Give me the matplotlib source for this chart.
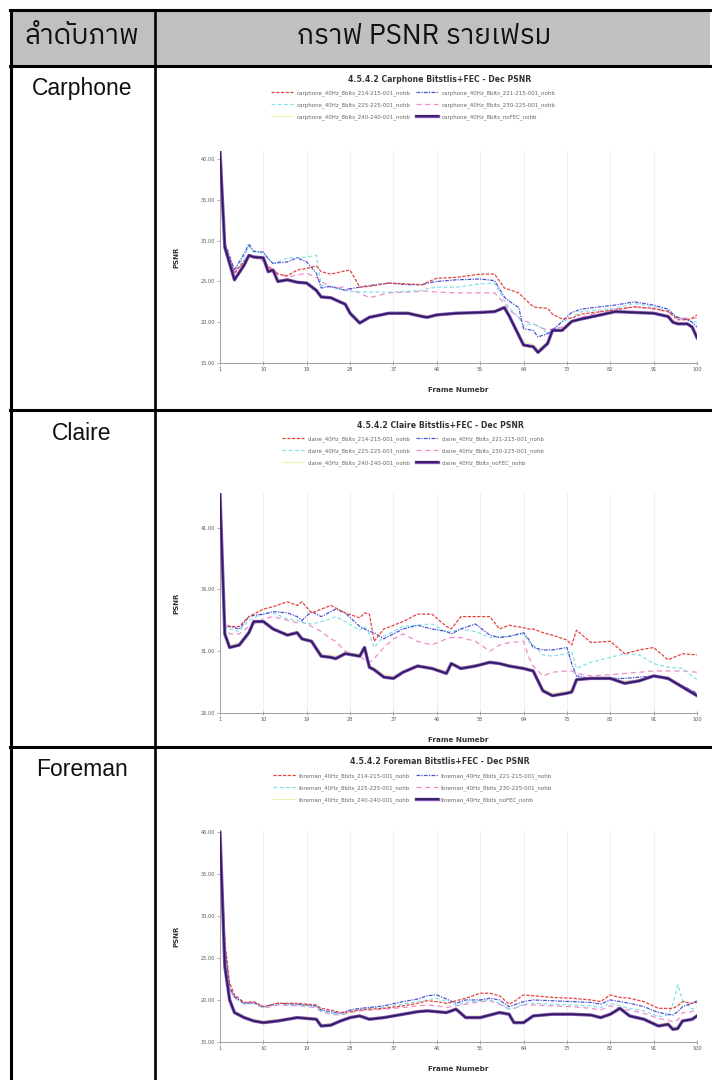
import matplotlib
matplotlib.use("Agg")
import matplotlib.pyplot as plt
import matplotlib.patheffects as pe
from matplotlib.lines import Line2D
from matplotlib.patches import Rectangle
from matplotlib.ticker import FormatStrFormatter
from matplotlib import font_manager
from matplotlib.ft2font import FT2Font

# ---------------------------------------------------------------- data
header_left = "ลำดับภาพ"
header_right = "กราฟ PSNR รายเฟรม"
clip_names = ["Carphone", "Claire", "Foreman"]
fec_settings = ["214-215-001", "221-215-001", "225-225-001",
                "230-225-001", "240-240-001", "noFEC"]
frame_ticks = [1, 10, 19, 28, 37, 46, 55, 64, 73, 82, 91, 100]

carphone_frames = [1, 2, 4, 6, 7, 8, 10, 11, 12, 13, 15, 17, 19, 21, 22, 24, 27, 28, 30, 32,
                   36, 40, 43, 44, 46, 50, 55, 58, 60, 61, 63, 64, 66, 67, 69, 70, 72, 74, 76,
                   80, 83, 87, 91, 94, 95, 96, 98, 99, 100]
carphone_214 = [40.9, 29.6, 26.0, 27.5, 28.2, 28.0, 27.8, 26.8, 26.5, 25.9, 25.7, 26.4, 26.6,
                26.9, 26.2, 25.9, 26.3, 26.4, 24.3, 24.4, 24.8, 24.7, 24.6, 24.9, 25.4, 25.5,
                25.9, 25.9, 24.2, 24.0, 23.6, 23.0, 21.9, 21.8, 21.7, 21.0, 20.4, 20.5, 21.0,
                21.3, 21.5, 21.9, 21.7, 21.3, 20.8, 20.3, 20.3, 20.5, 20.9]
carphone_221 = [40.9, 29.8, 26.4, 28.4, 29.6, 28.7, 28.6, 27.8, 27.2, 27.3, 27.4, 27.9, 27.4,
                26.0, 24.2, 24.4, 23.9, 24.1, 24.3, 24.5, 24.8, 24.6, 24.6, 24.8, 25.0, 25.2,
                25.3, 25.1, 23.1, 22.6, 21.8, 19.2, 19.0, 18.2, 18.6, 19.0, 20.1, 21.2, 21.6,
                21.9, 22.1, 22.5, 22.1, 21.6, 21.0, 20.6, 20.3, 20.0, 19.4]
carphone_225 = [40.9, 29.6, 26.2, 28.0, 29.3, 28.6, 28.5, 27.8, 27.2, 27.4, 27.9, 27.9, 28.0,
                28.2, 24.5, 24.4, 23.9, 23.8, 23.7, 23.7, 23.7, 23.8, 23.9, 24.1, 24.3, 24.3,
                24.7, 24.8, 22.7, 21.8, 20.6, 19.6, 19.8, 19.6, 18.6, 19.0, 20.0, 20.6, 21.3,
                21.5, 21.7, 22.3, 21.9, 21.4, 21.0, 20.6, 20.2, 20.1, 20.0]
carphone_230 = [40.9, 29.5, 26.0, 27.4, 28.0, 27.9, 27.5, 26.8, 26.4, 26.0, 25.5, 25.8, 26.0,
                25.5, 25.0, 24.3, 24.3, 24.0, 23.6, 23.0, 23.6, 23.7, 23.8, 23.8, 23.7, 23.6,
                23.6, 23.6, 22.3, 21.5, 20.6, 20.2, 19.8, 19.5, 19.0, 19.2, 19.4, 20.0, 20.6,
                21.3, 21.6, 21.9, 21.6, 21.3, 20.8, 20.5, 20.5, 20.5, 20.5]
carphone_240 = [40.9, 29.3, 25.4, 27.1, 28.3, 28.1, 27.8, 26.4, 26.3, 25.2, 25.3, 25.0, 24.9,
                24.1, 23.3, 23.1, 22.4, 21.3, 20.1, 20.7, 21.2, 21.2, 20.9, 20.8, 21.0, 21.2,
                21.3, 21.4, 21.7, 20.9, 18.7, 17.5, 17.3, 16.7, 17.6, 19.1, 19.2, 20.2, 20.5,
                21.0, 21.4, 21.3, 21.2, 20.8, 20.2, 20.0, 19.9, 19.6, 18.4]
carphone_nofec = [40.9, 29.2, 25.2, 27.0, 28.2, 28.0, 27.9, 26.2, 26.4, 25.0, 25.2, 24.9, 24.8,
                  23.9, 23.1, 23.0, 22.2, 21.1, 19.9, 20.6, 21.1, 21.1, 20.7, 20.6, 20.9, 21.1,
                  21.2, 21.3, 21.8, 20.8, 18.4, 17.2, 17.0, 16.3, 17.4, 19.0, 19.0, 20.1, 20.4,
                  20.9, 21.3, 21.2, 21.1, 20.7, 20.0, 19.8, 19.8, 19.4, 18.1]

claire_frames = [1, 2, 3, 5, 7, 8, 10, 12, 15, 17, 18, 20, 22, 24, 25, 27, 30, 31, 32, 33, 35,
                 37, 39, 42, 45, 48, 49, 51, 54, 57, 59, 61, 64, 65, 66, 68, 70, 73, 74, 75,
                 78, 82, 85, 88, 91, 94, 97, 100]
claire_214 = [43.7, 33.2, 33.0, 33.0, 33.8, 34.0, 34.4, 34.6, 35.0, 34.7, 35.0, 34.1, 34.4,
              34.7, 34.5, 34.1, 33.7, 34.1, 34.0, 31.8, 32.8, 33.1, 33.4, 34.0, 34.0, 33.0,
              32.8, 33.8, 33.8, 33.8, 32.8, 33.1, 32.9, 32.8, 32.8, 32.5, 32.3, 31.9, 31.5,
              32.7, 31.7, 31.8, 30.8, 31.1, 31.3, 30.3, 30.8, 30.7]
claire_221 = [43.7, 33.0, 33.0, 32.8, 33.8, 33.9, 34.0, 34.2, 34.1, 33.8, 33.5, 34.2, 33.8,
              34.2, 34.4, 34.1, 33.0, 32.8, 32.6, 32.5, 32.0, 32.4, 32.8, 33.1, 32.8, 32.6,
              32.4, 32.8, 33.2, 32.3, 32.1, 32.2, 32.5, 32.0, 31.3, 31.1, 31.1, 31.3, 30.0,
              29.0, 28.8, 28.8, 28.8, 28.9, 29.0, 28.7, 28.2, 27.6]
claire_225 = [43.7, 33.0, 32.8, 32.6, 33.5, 33.7, 34.0, 34.1, 33.6, 33.5, 33.3, 33.2, 33.4,
              33.6, 33.8, 33.4, 32.7, 33.0, 32.4, 31.3, 32.2, 32.6, 33.0, 33.1, 33.2, 32.5,
              32.6, 32.8, 32.6, 32.1, 32.2, 32.2, 32.4, 31.8, 31.5, 30.7, 30.6, 30.8, 31.0,
              29.6, 30.1, 30.5, 30.8, 30.7, 30.0, 29.7, 29.6, 28.7]
claire_230 = [43.7, 32.8, 32.4, 32.4, 33.0, 33.2, 33.6, 33.8, 33.5, 33.3, 33.4, 33.0, 32.6,
              32.0, 31.8, 31.0, 30.6, 30.3, 30.1, 30.4, 31.3, 32.0, 32.4, 31.8, 31.5, 32.0,
              32.1, 32.1, 31.8, 31.0, 31.5, 31.7, 31.8, 30.6, 29.8, 29.0, 29.3, 29.4, 29.4,
              29.2, 29.0, 29.1, 29.2, 29.3, 29.4, 29.4, 29.4, 29.3]
claire_240 = [43.7, 32.6, 31.5, 31.7, 32.6, 33.3, 33.3, 32.9, 32.4, 32.6, 32.1, 31.9, 30.8,
              30.7, 30.6, 30.9, 30.8, 31.2, 29.9, 29.7, 29.1, 29.0, 29.4, 29.9, 29.7, 29.4,
              29.9, 29.7, 29.9, 30.1, 30.0, 29.9, 29.7, 29.6, 29.5, 28.0, 27.6, 27.8, 27.9,
              28.8, 28.9, 28.9, 28.6, 28.7, 29.0, 28.9, 28.2, 27.6]
claire_nofec = [43.7, 32.4, 31.3, 31.5, 32.5, 33.4, 33.4, 32.8, 32.3, 32.5, 32.0, 31.8, 30.6,
                30.5, 30.4, 30.8, 30.6, 31.3, 29.7, 29.5, 28.9, 28.8, 29.3, 29.8, 29.6, 29.2,
                30.0, 29.6, 29.8, 30.1, 30.0, 29.8, 29.6, 29.5, 29.4, 27.8, 27.4, 27.6, 27.7,
                28.7, 28.8, 28.8, 28.4, 28.6, 29.0, 28.8, 28.1, 27.4]

foreman_frames = [1, 2, 3, 4, 6, 8, 10, 13, 17, 21, 22, 24, 26, 28, 30, 32, 35, 39, 42, 44,
                  46, 48, 50, 52, 55, 57, 59, 61, 62, 64, 66, 70, 74, 78, 80, 82, 84, 86, 89,
                  92, 94, 95, 96, 97, 99, 100]
foreman_214 = [39.9, 27.0, 22.0, 20.6, 19.7, 19.8, 19.2, 19.6, 19.6, 19.4, 19.0, 18.8, 18.5,
               18.6, 18.8, 18.9, 19.0, 19.3, 19.6, 19.9, 19.8, 19.6, 19.9, 20.2, 20.8, 20.8,
               20.5, 19.5, 19.8, 20.6, 20.5, 20.3, 20.2, 20.0, 19.8, 20.6, 20.3, 20.2, 19.8,
               19.0, 19.0, 19.0, 19.3, 19.8, 19.6, 19.7]
foreman_221 = [39.9, 26.5, 21.5, 20.4, 19.6, 19.7, 19.2, 19.6, 19.5, 19.3, 18.8, 18.6, 18.4,
               18.8, 19.0, 19.1, 19.3, 19.8, 20.1, 20.5, 20.6, 20.1, 19.6, 20.0, 20.0, 20.2,
               20.0, 19.2, 19.4, 19.8, 20.0, 19.9, 19.8, 19.7, 19.5, 20.0, 19.8, 19.6, 19.2,
               18.5, 18.3, 18.2, 18.6, 19.2, 19.6, 19.9]
foreman_225 = [39.9, 26.0, 21.3, 20.2, 19.5, 19.6, 19.1, 19.5, 19.4, 19.2, 18.7, 18.4, 18.3,
               18.6, 18.9, 19.0, 19.1, 19.5, 19.8, 20.0, 20.2, 19.8, 19.4, 19.7, 19.9, 20.0,
               19.6, 18.9, 19.0, 19.5, 19.6, 19.5, 19.4, 19.3, 19.1, 19.6, 19.3, 19.0, 18.7,
               18.0, 18.2, 19.5, 21.8, 20.0, 18.9, 19.2]
foreman_230 = [39.9, 26.2, 21.4, 20.3, 19.5, 19.6, 19.0, 19.4, 19.3, 19.1, 18.6, 18.3, 18.2,
               18.5, 18.7, 18.8, 18.9, 19.1, 19.3, 19.4, 19.3, 19.1, 19.3, 19.5, 19.8, 19.9,
               19.5, 18.9, 19.0, 19.4, 19.4, 19.3, 19.2, 19.0, 18.8, 19.3, 19.0, 18.8, 18.4,
               17.8, 17.6, 17.4, 17.6, 18.5, 18.6, 18.9]
foreman_240 = [39.9, 24.5, 20.3, 18.7, 18.1, 17.7, 17.5, 17.7, 18.0, 17.9, 17.1, 17.2, 17.6,
               18.0, 18.2, 17.9, 18.0, 18.4, 18.7, 18.8, 18.7, 18.6, 19.0, 18.1, 18.1, 18.3,
               18.6, 18.4, 17.5, 17.5, 18.2, 18.4, 18.4, 18.3, 18.0, 18.4, 19.1, 18.2, 17.8,
               17.1, 17.3, 16.8, 16.9, 17.6, 17.8, 18.2]
foreman_nofec = [39.9, 24.0, 20.0, 18.5, 17.9, 17.5, 17.3, 17.5, 17.9, 17.7, 16.9, 17.0, 17.5,
                 17.9, 18.1, 17.7, 17.9, 18.3, 18.6, 18.7, 18.6, 18.5, 18.9, 17.9, 17.9, 18.2,
                 18.5, 18.3, 17.3, 17.3, 18.1, 18.3, 18.3, 18.2, 17.9, 18.3, 19.0, 18.1, 17.7,
                 16.9, 17.1, 16.5, 16.6, 17.5, 17.7, 18.1]

carphone_yticks = [15, 20, 25, 30, 35, 40]
claire_yticks = [26, 31, 36, 41]
foreman_yticks = [15, 20, 25, 30, 35, 40]

# ---------------------------------------------------------------- page setup
W, H = 712, 1080
fig = plt.figure(figsize=(W / 100, H / 100), dpi=100)
fig.patch.set_facecolor("white")


def fx(x):
    return x / W


def fy(y):
    return 1 - y / H


def thai_capable_family():
    found = []
    for entry in font_manager.fontManager.ttflist:
        try:
            charmap = FT2Font(entry.fname).get_charmap()
        except Exception:
            continue
        if all(ord(ch) in charmap for ch in header_left + "กรฟยเม"):
            found.append(entry.name)
    if not found:
        return None
    for name in found:
        if "sans" in name.lower():
            return name
    return found[0]


thai_family = thai_capable_family()
head_fonts = ([thai_family] if thai_family else []) + ["Liberation Sans", "DejaVu Sans"]

# ---------------------------------------------------------------- table frame
fig.add_artist(Rectangle((fx(11), fy(66)), fx(710) - fx(11), fy(10) - fy(66),
                         transform=fig.transFigure, facecolor="#c0c0c0",
                         edgecolor="none", zorder=0))


def rule(x0, y0, x1, y1, lw=2.2, color="black"):
    fig.add_artist(Line2D([fx(x0), fx(x1)], [fy(y0), fy(y1)], transform=fig.transFigure,
                          color=color, lw=lw, solid_capstyle="projecting", zorder=5))


rule(10, 10, 712, 10)
rule(10, 66, 712, 66)
rule(10, 410, 712, 410)
rule(10, 747, 712, 747)
rule(11, 10, 11, 1080)
rule(155, 10, 155, 1080, lw=1.9)

fig.text(fx(82), fy(37), header_left, family=head_fonts, fontsize=20,
         ha="center", va="center", color="#111111")
fig.text(fx(424), fy(37), header_right, family=head_fonts, fontsize=20,
         ha="center", va="center", color="#111111")

row_label_y = [88, 433, 770]
for name, y in zip(clip_names, row_label_y):
    fig.text(fx(82), fy(y), name, family=["Liberation Sans", "DejaVu Sans"], fontsize=16.5,
             ha="center", va="center", color="#111111")

# ---------------------------------------------------------------- chart styles
line_styles = [
    dict(color="#e5433d", lw=0.9, ls=(0, (2.6, 1.2)), zorder=6),
    dict(color="#4c52d6", lw=0.9, ls=(0, (3.0, 1.0, 1.0, 1.0)), zorder=5),
    dict(color="#86e1e8", lw=0.9, ls=(0, (3.0, 2.0)), zorder=4),
    dict(color="#f08ac8", lw=0.9, ls=(0, (4.0, 3.0)), zorder=3),
    dict(color="#f2efb4", lw=0.8, ls="-", zorder=2),
    dict(color="#2c1c58", lw=1.2, ls="-", zorder=7,
         path_effects=[pe.Stroke(linewidth=2.4, foreground="#8550bd"), pe.Normal()]),
]

charts = [
    dict(clip="carphone", title="4.5.4.2 Carphone Bitstlis+FEC - Dec PSNR",
         frames=carphone_frames,
         series=[carphone_214, carphone_221, carphone_225, carphone_230, carphone_240,
                 carphone_nofec],
         yticks=carphone_yticks, ylim=(15, 41.0), box=(220, 151, 697, 363),
         title_y=80, legend_top=90),
    dict(clip="claire", title="4.5.4.2 Claire Bitstlis+FEC - Dec PSNR",
         frames=claire_frames,
         series=[claire_214, claire_221, claire_225, claire_230, claire_240, claire_nofec],
         yticks=claire_yticks, ylim=(26, 43.8), box=(220, 493, 697, 713),
         title_y=425, legend_top=436),
    dict(clip="foreman", title="4.5.4.2 Foreman Bitstlis+FEC - Dec PSNR",
         frames=foreman_frames,
         series=[foreman_214, foreman_221, foreman_225, foreman_230, foreman_240,
                 foreman_nofec],
         yticks=foreman_yticks, ylim=(15, 40.2), box=(220, 830, 697, 1042),
         title_y=762, legend_top=773),
]

for chart in charts:
    left, top, right, bottom = chart["box"]
    ax = fig.add_axes([fx(left), fy(bottom), fx(right) - fx(left), fy(top) - fy(bottom)])
    ax.set_facecolor("none")
    handles = []
    for values, style in zip(chart["series"], line_styles):
        (ln,) = ax.plot(chart["frames"], values, **style)
        handles.append(ln)
    ax.set_xlim(1, 100)
    ax.set_ylim(*chart["ylim"])
    ax.set_xticks(frame_ticks)
    ax.set_yticks(chart["yticks"])
    ax.yaxis.set_major_formatter(FormatStrFormatter("%.2f"))
    ax.tick_params(labelsize=3.6, colors="#8a8a8a", labelcolor="#555555",
                   length=2.0, width=0.5, pad=1.5)
    ax.tick_params(axis="x", direction="inout", length=3.0)
    ax.grid(axis="x", color="#ededed", lw=0.6)
    ax.set_axisbelow(True)
    for side in ("top", "right"):
        ax.spines[side].set_visible(False)
    for side in ("left", "bottom"):
        ax.spines[side].set_color("#a0a0a0")
        ax.spines[side].set_linewidth(0.7)

    fig.text(fx((left + right) / 2), fy(bottom + 27), "Frame Numebr", fontsize=5.2,
             fontweight="bold", ha="center", va="center", color="#333333")
    fig.text(fx(176), fy((top + bottom) / 2), "PSNR", fontsize=5.0, fontweight="bold",
             rotation=90, ha="center", va="center", color="#333333")
    fig.text(fx(440), fy(chart["title_y"]), chart["title"], fontsize=5.6,
             fontweight="bold", ha="center", va="center", color="#333333")

    labels = [f"{chart['clip']}_40Hz_8bits_{key}_nohb" for key in fec_settings]
    order = [0, 2, 4, 1, 3, 5]
    ax.legend([handles[i] for i in order], [labels[i] for i in order],
              loc="upper center", bbox_to_anchor=(fx(413), fy(chart["legend_top"])),
              bbox_transform=fig.transFigure, ncol=2, frameon=False, fontsize=4.0,
              handlelength=4.0, handletextpad=0.6, columnspacing=1.0,
              labelspacing=1.15, borderpad=0, borderaxespad=0, labelcolor="#666666")

fig.savefig("out.png", dpi=100, facecolor="white")
